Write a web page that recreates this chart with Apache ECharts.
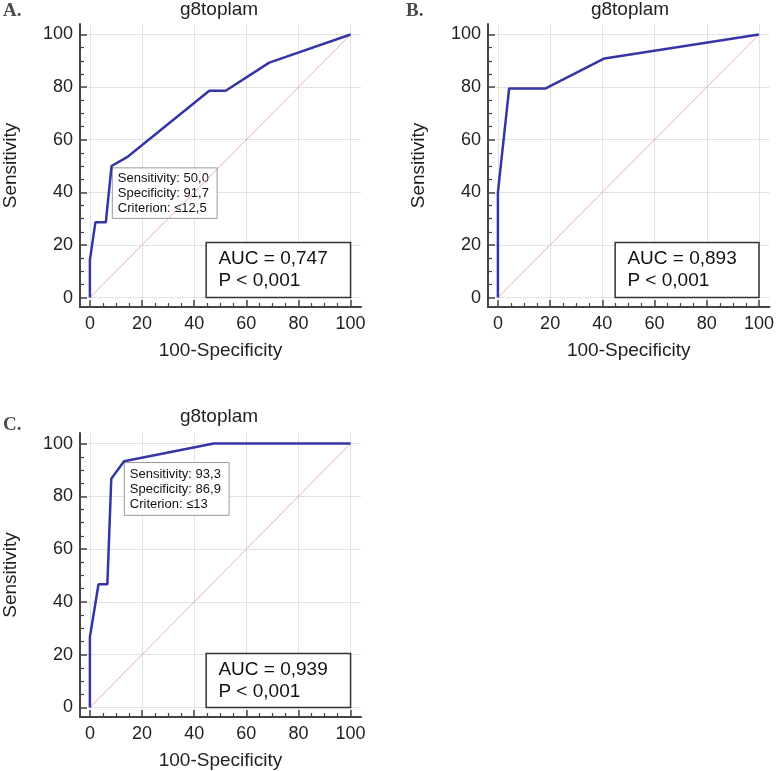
<!DOCTYPE html>
<html><head><meta charset="utf-8">
<script src="https://cdn.jsdelivr.net/npm/echarts@6/dist/echarts.min.js"></script>
<style>html,body{margin:0;padding:0;background:#fff}#c{width:777px;height:771px}</style>
</head><body><div id="c"></div>
<script>
const TICKS = [0, 20, 40, 60, 80, 100];
const MINOR = [5, 10, 15, 25, 30, 35, 45, 50, 55, 65, 70, 75, 85, 90, 95];
const panelLabels = ['A.', 'B.', 'C.'];
const panelTitle = 'g8toplam';
const xName = '100-Specificity';
const yName = 'Sensitivity';
const diag = [[0, 0], [100, 100]];
const rocA = [[0,0],[0,14.3],[2.1,28.6],[6.1,28.6],[8.3,50],[14.6,53.6],[45.8,78.6],[52.1,78.6],[68.8,89.3],[100,100]];
const rocB = [[0,0],[0,40],[4.3,79.5],[18.3,79.5],[40.8,90.9],[100,100]];
const rocC = [[0,0],[0,26.7],[3.3,46.7],[6.7,46.7],[8.2,86.7],[13.1,93.3],[47.5,100],[100,100]];
const aucText = ['AUC = 0,747\nP < 0,001', 'AUC = 0,893\nP < 0,001', 'AUC = 0,939\nP < 0,001'];
const critText = ['Sensitivity: 50,0\nSpecificity: 91,7\nCriterion: \u226412,5', null, 'Sensitivity: 93,3\nSpecificity: 86,9\nCriterion: \u226413'];

const FONT = '"Liberation Sans", Arial, sans-serif';
const grids = [
  {left: 77, top: 24, width: 284, height: 283},
  {left: 488, top: 24, width: 284, height: 283},
  {left: 77, top: 433, width: 284, height: 284}
];
const rocs = [rocA, rocB, rocC];
const aucBoxes = [[[44.6, 0], [100, 20.9]], [[44.9, 0], [100, 20.9]], [[44.6, 0], [100, 20.5]]];
const critBoxes = [[[8.6, 30.1], [48.8, 49.3]], null, [[13.2, 72.8], [53.4, 92.8]]];
const XMIN = -3.8, XMAX = 104, YMIN = -3.6, YMAX = 104;

const xAxes = [], yAxes = [], series = [], titles = [];
grids.forEach((g, i) => {
  xAxes.push({
    gridIndex: i, type: 'value', min: XMIN, max: XMAX, position: 'bottom',
    name: xName, nameLocation: 'middle', nameGap: 34,
    nameTextStyle: {fontSize: 19, color: '#222', fontFamily: FONT},
    axisLine: {show: true, onZero: false, lineStyle: {color: '#444', width: 2}},
    axisTick: {show: true, inside: true, length: 7, customValues: TICKS, lineStyle: {color: '#444', width: 1.5}},
    axisLabel: {customValues: TICKS, fontSize: 18, color: '#222', margin: 8, fontFamily: FONT},
    splitLine: {show: true, lineStyle: {color: '#e2e2e2', width: 1}}
  });
  xAxes.push({
    gridIndex: i, type: 'value', min: XMIN, max: XMAX, position: 'bottom',
    axisLine: {show: false, onZero: false},
    axisTick: {show: true, inside: true, length: 4, customValues: MINOR, lineStyle: {color: '#444', width: 1.2}},
    axisLabel: {show: false}, splitLine: {show: false}
  });
  yAxes.push({
    gridIndex: i, type: 'value', min: YMIN, max: YMAX, position: 'left',
    name: yName, nameLocation: 'middle', nameGap: 60, nameRotate: 90,
    nameTextStyle: {fontSize: 19, color: '#222', fontFamily: FONT},
    axisLine: {show: true, onZero: false, lineStyle: {color: '#444', width: 2}},
    axisTick: {show: true, inside: true, length: 7, customValues: TICKS, lineStyle: {color: '#444', width: 1.5}},
    axisLabel: {customValues: TICKS, fontSize: 18, color: '#222', margin: 7, fontFamily: FONT},
    splitLine: {show: true, lineStyle: {color: '#e2e2e2', width: 1}}
  });
  yAxes.push({
    gridIndex: i, type: 'value', min: YMIN, max: YMAX, position: 'left',
    axisLine: {show: false, onZero: false},
    axisTick: {show: true, inside: true, length: 4, customValues: MINOR, lineStyle: {color: '#444', width: 1.2}},
    axisLabel: {show: false}, splitLine: {show: false}
  });
  const xi = 2 * i, yi = 2 * i;
  series.push({
    type: 'line', xAxisIndex: xi, yAxisIndex: yi, data: diag, z: 2, silent: true,
    showSymbol: false, lineStyle: {color: '#e59a9a', width: 0.8}
  });
  const areas = [[{coord: aucBoxes[i][0], label: {formatter: aucText[i], fontSize: 19, lineHeight: 22, distance: 13},
                   itemStyle: {color: '#ffffff', opacity: 1, borderColor: '#333', borderWidth: 1.5}},
                  {coord: aucBoxes[i][1]}]];
  if (critBoxes[i]) {
    areas.push([{coord: critBoxes[i][0], label: {formatter: critText[i], fontSize: 13, lineHeight: 15, distance: 6},
                 itemStyle: {color: '#ffffff', opacity: 1, borderColor: '#999', borderWidth: 1}},
                {coord: critBoxes[i][1]}]);
  }
  series.push({
    type: 'line', xAxisIndex: xi, yAxisIndex: yi, data: [], z: 3, silent: true,
    markArea: {
      silent: true,
      label: {show: true, position: 'insideLeft', align: 'left', color: '#111', fontFamily: FONT},
      data: areas
    }
  });
  series.push({
    type: 'line', xAxisIndex: xi, yAxisIndex: yi, data: rocs[i], z: 4, silent: true,
    showSymbol: false, lineStyle: {color: '#3535a6', width: 2.5}
  });
  const cx = g.left + 10 + 132;
  titles.push({text: panelTitle, left: cx, textAlign: 'center', top: i === 2 ? 407 : 0, padding: 0,
    textStyle: {fontSize: 19, fontWeight: 'normal', color: '#222', fontFamily: FONT}});
  titles.push({text: panelLabels[i], left: i === 1 ? 406 : 3, top: i === 2 ? 416 : 2, padding: 0,
    textStyle: {fontSize: 19, fontWeight: 'bold', color: '#4a4a4a', fontFamily: '"Liberation Serif", "Times New Roman", serif'}});
});

const chart = echarts.init(document.getElementById('c'), null, {renderer: 'canvas'});
chart.setOption({
  animation: false,
  backgroundColor: '#ffffff',
  title: titles,
  grid: grids,
  xAxis: xAxes,
  yAxis: yAxes,
  series: series
});
</script>
</body></html>
